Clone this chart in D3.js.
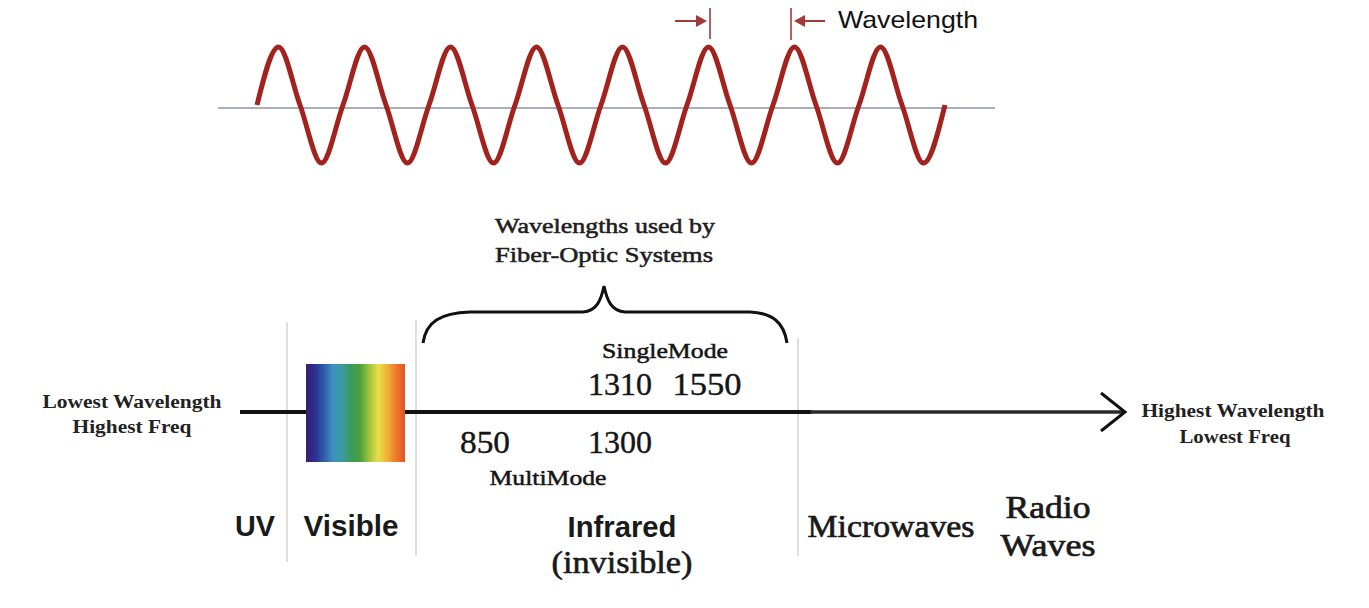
<!DOCTYPE html>
<html><head><meta charset="utf-8">
<script src="https://cdn.jsdelivr.net/npm/d3@7/dist/d3.min.js"></script>
<style>html,body{margin:0;padding:0;background:#fff;}svg{display:block;}</style>
</head><body>
<script>
// ---------- DATA ----------
// wave levels at quarter-cycle steps (0 = baseline, 1 = crest, -1 = trough)
const waveLevels = [0,1,0,-1, 0,1,0,-1, 0,1,0,-1, 0,1,0,-1, 0,1,0,-1, 0,1,0,-1, 0,1,0,-1, 0,1,0,-1, 0];
const waveLabel = "Wavelength";
const regions = ["UV", "Visible", "Infrared", "Microwaves", "Radio Waves"];
const singleModeWavelengths = [1310, 1550];
const multiModeWavelengths = [850, 1300];
const modeLabels = ["SingleMode", "MultiMode"];
const fiberTitle = ["Wavelengths used by", "Fiber-Optic Systems"];
const leftEndLabels = ["Lowest Wavelength", "Highest Freq"];
const rightEndLabels = ["Highest Wavelength", "Lowest Freq"];
const spectrumColors = ["#3a1e6c","#2b2f92","#2f5cab","#3d92bd","#3a9aa0","#3b9a5c","#4c9f3c","#9cc23e","#e9df46","#f1b236","#ec7a2a","#e4512a"];

// ---------- LAYOUT ----------
const W = 1369, H = 608;
const svg = d3.select("body").append("svg").attr("width", W).attr("height", H);
svg.append("rect").attr("width", W).attr("height", H).attr("fill", "#fff");

const SERIF = "'Liberation Serif','Times New Roman',serif";
const SANS = "'Liberation Sans',Arial,sans-serif";

function txt(t, x, y, len, size, fam, weight, anchor, color, sw) {
  const el = svg.append("text").text(t)
    .attr("x", x).attr("y", y)
    .attr("text-anchor", anchor || "middle")
    .attr("font-family", fam).attr("font-size", size)
    .attr("font-weight", weight || "normal")
    .attr("fill", color || "#151515")
    .attr("textLength", len).attr("lengthAdjust", "spacingAndGlyphs");
  if (sw) el.attr("stroke", color || "#151515").attr("stroke-width", sw);
  return el;
}

// ---------- WAVE ----------
const xw = d3.scaleLinear().domain([0, (waveLevels.length - 1) / 4]).range([257, 945]);
const yw = d3.scaleLinear().domain([-1, 1]).range([163, 47]);
svg.append("line").attr("x1", 218).attr("x2", 995).attr("y1", 108).attr("y2", 108)
  .attr("stroke", "#8e93aa").attr("stroke-width", 1.6);
const wavePath = d3.line().x((d, i) => xw(i / 4)).y(d => yw(d)).curve(d3.curveMonotoneX);
svg.append("path").attr("d", wavePath(waveLevels)).attr("fill", "none")
  .attr("stroke", "#a2231d").attr("stroke-width", 5).attr("stroke-linejoin", "round");

// wavelength markers
const mk = "#a23a3a";
svg.append("line").attr("x1", 710).attr("x2", 710).attr("y1", 8).attr("y2", 39).attr("stroke", mk).attr("stroke-width", 1.6);
svg.append("line").attr("x1", 791).attr("x2", 791).attr("y1", 8).attr("y2", 40).attr("stroke", mk).attr("stroke-width", 1.6);
svg.append("line").attr("x1", 675).attr("x2", 698).attr("y1", 21).attr("y2", 21).attr("stroke", mk).attr("stroke-width", 2);
svg.append("path").attr("d", "M696,15 L707,21 L696,27 Z").attr("fill", mk);
svg.append("line").attr("x1", 802).attr("x2", 825).attr("y1", 21).attr("y2", 21).attr("stroke", mk).attr("stroke-width", 2);
svg.append("path").attr("d", "M805,15 L794,21 L805,27 Z").attr("fill", mk);
txt(waveLabel, 838, 28, 140, 24, SANS, "normal", "start", "#111");

// ---------- SPECTRUM AXIS ----------
[[287, 322, 562], [416, 320, 556], [798, 338, 556]].forEach(d => {
  svg.append("line").attr("x1", d[0]).attr("x2", d[0]).attr("y1", d[1]).attr("y2", d[2])
    .attr("stroke", "#d4d4d4").attr("stroke-width", 1.5);
});

svg.append("line").attr("x1", 240).attr("x2", 812).attr("y1", 412).attr("y2", 412)
  .attr("stroke", "#111").attr("stroke-width", 4);
svg.append("line").attr("x1", 810).attr("x2", 1124).attr("y1", 412).attr("y2", 412)
  .attr("stroke", "#2a2a2a").attr("stroke-width", 3.4);
svg.append("path").attr("d", "M1101,393 L1125,412 L1101,431").attr("fill", "none")
  .attr("stroke", "#111").attr("stroke-width", 3);

const grad = svg.append("defs").append("linearGradient").attr("id", "spec");
spectrumColors.forEach((c, i) => grad.append("stop")
  .attr("offset", (i / (spectrumColors.length - 1) * 100) + "%").attr("stop-color", c));
svg.append("rect").attr("x", 306).attr("y", 364).attr("width", 99).attr("height", 98)
  .attr("fill", "url(#spec)");

svg.append("path")
  .attr("d", "M423,343 C426,322 440,313 470,312 L583,312 C597,311 601,300 604,286 C607,300 611,311 625,312 L750,312 C772,313 784,322 787,343")
  .attr("fill", "none").attr("stroke", "#111").attr("stroke-width", 3);
txt(fiberTitle[0], 605, 233, 220, 20, SERIF, "normal", "middle", "#1e1e1e", 0.5);
txt(fiberTitle[1], 604, 262, 218, 20, SERIF, "normal", "middle", "#1e1e1e", 0.5);

txt(modeLabels[0], 665, 358, 126, 22, SERIF, "normal", "middle", "#151515", 0.5);
txt(String(singleModeWavelengths[0]), 620, 395, 64, 32, SERIF, "normal", "middle", "#151515", 0.4);
txt(String(singleModeWavelengths[1]), 707, 395, 69, 32, SERIF, "normal", "middle", "#151515", 0.4);
txt(String(multiModeWavelengths[0]), 485, 453, 50, 32, SERIF, "normal", "middle", "#151515", 0.4);
txt(String(multiModeWavelengths[1]), 620, 453, 64, 32, SERIF, "normal", "middle", "#151515", 0.4);
txt(modeLabels[1], 548, 485, 117, 22, SERIF, "normal", "middle", "#151515", 0.5);

txt(leftEndLabels[0], 132, 408, 179, 18, SERIF, "bold", "middle", "#222");
txt(leftEndLabels[1], 132, 433, 119, 18, SERIF, "bold", "middle", "#222");
txt(rightEndLabels[0], 1233, 417, 183, 18, SERIF, "bold", "middle", "#222");
txt(rightEndLabels[1], 1235, 443, 111, 18, SERIF, "bold", "middle", "#222");

txt(regions[0], 255, 536, 40, 30, SANS, "bold", "middle", "#1a1a1a");
txt(regions[1], 351, 536, 95, 30, SANS, "bold", "middle", "#1a1a1a");
txt(regions[2], 622, 537, 109, 30, SANS, "bold", "middle", "#1a1a1a");
txt("(invisible)", 622, 573, 141, 31, SERIF, "normal", "middle", "#1a1a1a", 0.6);
txt(regions[3], 891, 537, 167, 31, SERIF, "normal", "middle", "#1a1a1a", 0.7);
const radio = regions[4].split(" ");
txt(radio[0], 1048, 518, 85, 31, SERIF, "normal", "middle", "#1a1a1a", 0.7);
txt(radio[1], 1048, 556, 95, 31, SERIF, "normal", "middle", "#1a1a1a", 0.7);
</script>
</body></html>
